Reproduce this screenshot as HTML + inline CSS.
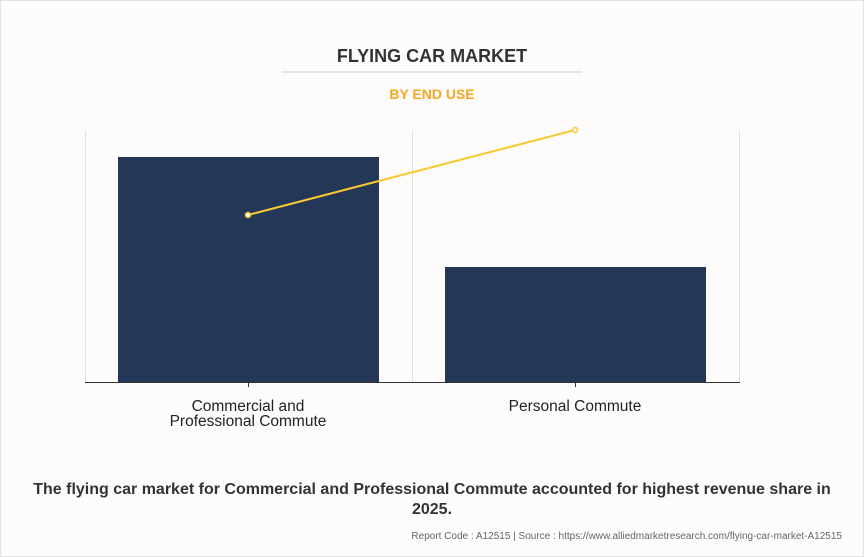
<!DOCTYPE html>
<html><head><style>
html,body{margin:0;padding:0;background:#fdfcfb;}
body{width:864px;height:557px;overflow:hidden;}
svg{display:block}
</style></head><body>
<svg width="864" height="557" xmlns="http://www.w3.org/2000/svg">
<rect x="0.5" y="0.5" width="863" height="556" fill="#fdfcfb" stroke="#e2e2e2"/>
<text x="432" y="62" text-anchor="middle" font-family="Liberation Sans, sans-serif" font-weight="bold" font-size="18" fill="#333">FLYING CAR MARKET</text>
<line x1="282" y1="72" x2="582" y2="72" stroke="#ccc" stroke-width="1"/>
<text x="432" y="99" text-anchor="middle" font-family="Liberation Sans, sans-serif" font-weight="bold" font-size="14" fill="#f5a623">BY END USE</text>
<g stroke="#e0e0e0" stroke-width="1">
<line x1="85.5" y1="130" x2="85.5" y2="382"/>
<line x1="412.5" y1="130" x2="412.5" y2="382"/>
<line x1="739.5" y1="130" x2="739.5" y2="382"/>
</g>
<rect x="118" y="157" width="261" height="225" fill="#253756"/>
<rect x="445" y="267" width="261" height="115" fill="#253756"/>
<line x1="85" y1="382.5" x2="740" y2="382.5" stroke="#333" stroke-width="1"/>
<line x1="248.5" y1="382" x2="248.5" y2="387" stroke="#333"/>
<line x1="575.5" y1="382" x2="575.5" y2="387" stroke="#333"/>
<line x1="248" y1="215" x2="575" y2="130" stroke="#f9c932" stroke-width="2"/>
<circle cx="248" cy="215" r="2.5" fill="#fff" stroke="#f9c932" stroke-width="1.5"/>
<circle cx="575" cy="130" r="2.5" fill="#fff" stroke="#f9c932" stroke-width="1.5"/>
<g font-family="Liberation Sans, sans-serif" font-size="15.5" fill="#222" text-anchor="middle">
<text x="248" y="411">Commercial and</text>
<text x="248" y="426">Professional Commute</text>
<text x="575" y="411">Personal Commute</text>
</g>
<text x="432" y="494" text-anchor="middle" font-family="Liberation Sans, sans-serif" font-weight="bold" font-size="16" fill="#333">The flying car market for Commercial and Professional Commute accounted for highest revenue share in</text>
<text x="432" y="514" text-anchor="middle" font-family="Liberation Sans, sans-serif" font-weight="bold" font-size="16" fill="#333">2025.</text>
<text x="842" y="539" text-anchor="end" font-family="Liberation Sans, sans-serif" font-size="10" fill="#666">Report Code : A12515  |  Source : https://www.alliedmarketresearch.com/flying-car-market-A12515</text>
</svg>
</body></html>
